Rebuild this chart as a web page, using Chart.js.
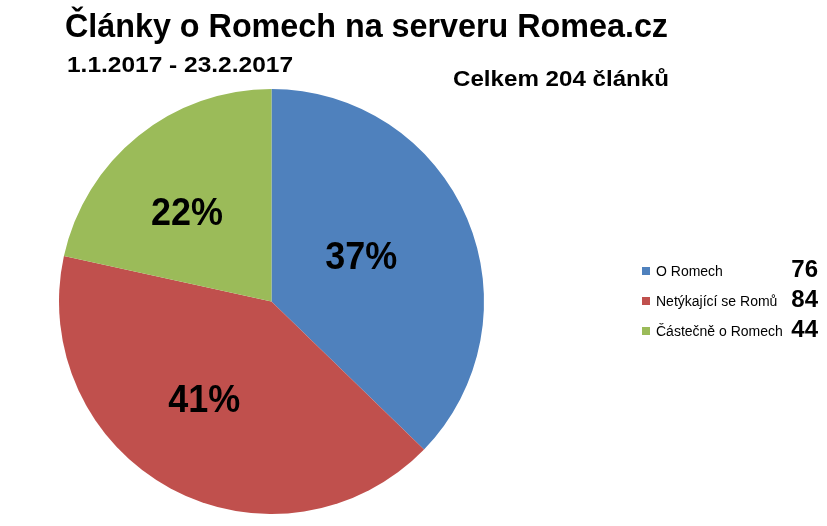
<!DOCTYPE html>
<html lang="cs">
<head>
<meta charset="UTF-8">
<title>Články o Romech na serveru Romea.cz</title>
<script src="https://cdn.jsdelivr.net/npm/chart.js"></script>
<style>
  html, body { margin: 0; padding: 0; background: #fff; }
  #chart { display: block; }
</style>
</head>
<body>
<canvas id="chart" width="827" height="526"></canvas>

<script>
// data
const categories = ["O Romech", "Netýkající se Romů", "Částečně o Romech"];
const counts = [76, 84, 44];
const sliceColors = ["#4F81BD", "#C0504D", "#9BBB59"];
const titleText = "Články o Romech na serveru Romea.cz";
const periodText = "1.1.2017 - 23.2.2017";
const totalText = "Celkem 204 článků";

const FONT = "'Liberation Sans', Arial, sans-serif";

// draw text stretched/squeezed to a given width (Calibri is narrower than what we have)
function fitText(ctx, text, x, y, width) {
    const w = ctx.measureText(text).width;
    ctx.save();
    ctx.translate(x, y);
    ctx.scale(width / w, 1);
    ctx.fillText(text, 0, 0);
    ctx.restore();
}

// titles, percent labels and legend drawn on top of the pie
const extras = {
    id: "extras",
    afterDraw(chart) {
        const ctx = chart.ctx;
        const total = counts.reduce((a, b) => a + b, 0);
        ctx.save();
        ctx.fillStyle = "#000";
        ctx.textBaseline = "alphabetic";
        ctx.textAlign = "left";

        ctx.font = "bold 34px " + FONT;
        fitText(ctx, titleText, 65, 37, 603);
        ctx.font = "bold 22px " + FONT;
        fitText(ctx, periodText, 67, 72, 226);
        ctx.font = "bold 22px " + FONT;
        fitText(ctx, totalText, 453, 86, 216);

        // percent labels inside slices (excel puts them a bit left of the mid point)
        const meta = chart.getDatasetMeta(0);
        ctx.textAlign = "center";
        ctx.textBaseline = "middle";
        ctx.font = "bold 38px " + FONT;
        meta.data.forEach((arc, i) => {
            const p = arc.getProps(["x", "y", "startAngle", "endAngle", "outerRadius"], true);
            const mid = (p.startAngle + p.endAngle) / 2;
            const r = p.outerRadius * 0.53;
            const pct = Math.round(counts[i] / total * 100) + "%";
            ctx.fillText(pct, p.x + Math.cos(mid) * r - 14, p.y + Math.sin(mid) * r + 1, 72);
        });

        // legend with counts
        categories.forEach((name, i) => {
            const y = 271 + i * 30;
            ctx.fillStyle = sliceColors[i];
            ctx.fillRect(642, y - 4, 8, 8);
            ctx.fillStyle = "#000";
            ctx.textAlign = "left";
            ctx.textBaseline = "middle";
            ctx.font = "14px " + FONT;
            ctx.fillText(name, 656, y + 1, i === 0 ? 999 : 128);
            ctx.textAlign = "right";
            ctx.font = "bold 24px " + FONT;
            ctx.fillText(String(counts[i]), 818, y - 1);
        });
        ctx.restore();
    }
};

new Chart(document.getElementById("chart"), {
    type: "pie",
    data: {
        labels: categories,
        datasets: [{
            data: counts,
            backgroundColor: sliceColors,
            borderWidth: 0
        }]
    },
    options: {
        responsive: false,
        animation: false,
        layout: { padding: { left: 58, top: 89, right: 342, bottom: 12 } },
        plugins: {
            legend: { display: false },
            tooltip: { enabled: false }
        }
    },
    plugins: [extras]
});
</script>
</body>
</html>
